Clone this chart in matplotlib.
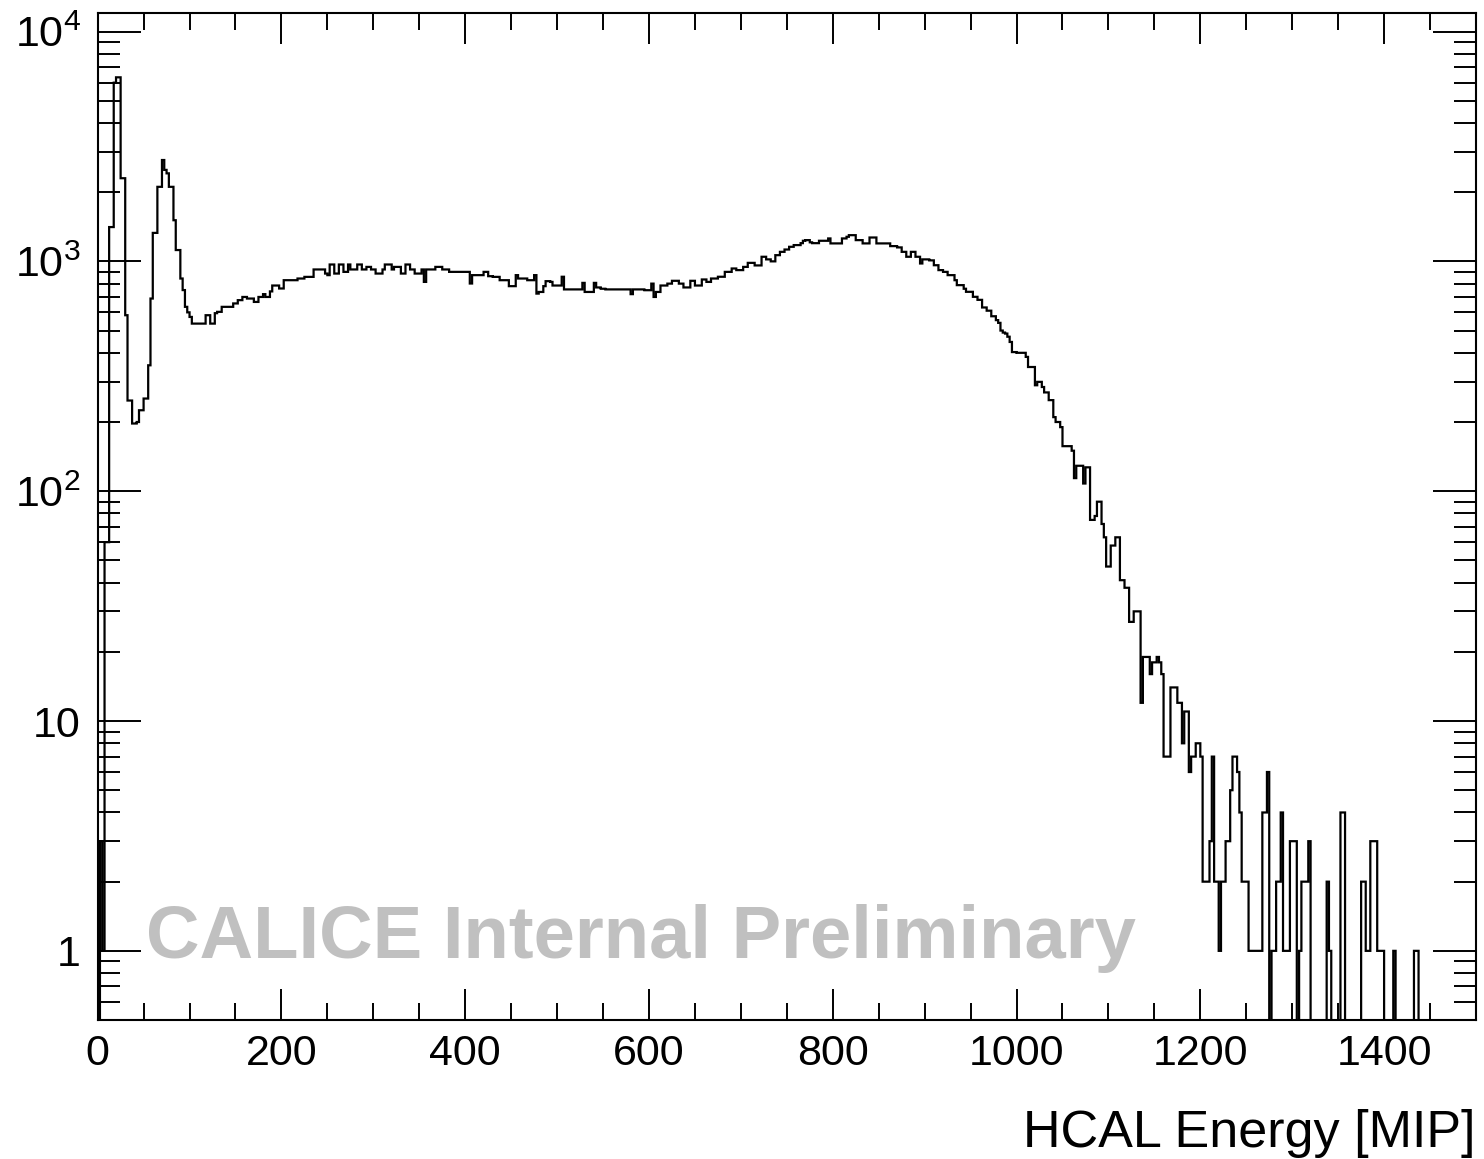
# HCAL energy spectrum, log scale histogram in the ROOT / CALICE style
import numpy as np
import matplotlib
matplotlib.use("Agg")
import matplotlib.pyplot as plt
from matplotlib.ticker import MultipleLocator, LogLocator, FuncFormatter, NullFormatter

plt.rcParams['font.family'] = ['Liberation Sans', 'DejaVu Sans']
plt.rcParams['mathtext.fontset'] = 'custom'
plt.rcParams['mathtext.rm'] = 'Liberation Sans'

# binning: 600 bins of 2.5 MIP from 0 to 1500 MIP
e_low = 0
e_high = 1500
n_bins = 600

# bin contents, one list per region of the spectrum
# 0 - 100 MIP (noise peak + MIP peak)
counts_peaks = [
    0, 3, 1, 60, 60, 1410, 1410, 5990, 6320, 6320,
    2300, 2300, 583, 248, 248, 197, 197, 200, 225, 225,
    253, 253, 353, 689, 1330, 1330, 2110, 2110, 2760, 2500,
    2415, 2110, 2110, 1510, 1120, 1120, 842, 750, 634, 600,
]
# 100 - 750 MIP (plateau and shower peak)
counts_plateau = [
    573, 536, 536, 536, 536, 536, 536, 583, 583, 536,
    536, 595, 603, 603, 634, 634, 634, 634, 634, 656,
    656, 678, 678, 700, 700, 689, 689, 689, 666, 666,
    700, 700, 720, 700, 700, 740, 785, 785, 785, 762,
    762, 828, 828, 828, 828, 828, 828, 842, 842, 842,
    856, 856, 856, 856, 922, 922, 922, 922, 922, 885,
    871, 969, 969, 885, 885, 969, 969, 900, 900, 969,
    922, 922, 922, 969, 969, 922, 922, 946, 946, 922,
    922, 885, 885, 885, 922, 969, 969, 969, 922, 946,
    946, 946, 885, 885, 969, 969, 922, 922, 885, 885,
    885, 922, 814, 922, 922, 922, 922, 946, 946, 946,
    922, 922, 922, 900, 900, 900, 900, 900, 900, 900,
    900, 900, 801, 871, 871, 871, 871, 871, 900, 900,
    862, 862, 856, 856, 856, 828, 828, 828, 828, 780,
    780, 780, 871, 842, 842, 842, 842, 828, 828, 828,
    871, 724, 736, 736, 780, 820, 820, 814, 785, 785,
    785, 785, 857, 755, 755, 755, 755, 755, 755, 755,
    755, 806, 736, 736, 736, 736, 806, 770, 770, 760,
    760, 755, 755, 755, 755, 755, 755, 755, 755, 755,
    755, 755, 720, 755, 755, 755, 755, 755, 749, 749,
    749, 800, 700, 736, 736, 785, 785, 785, 800, 800,
    823, 823, 823, 800, 800, 770, 770, 770, 823, 823,
    785, 785, 785, 834, 834, 814, 814, 842, 842, 842,
    857, 857, 857, 900, 900, 900, 931, 931, 916, 916,
    916, 946, 946, 985, 985, 985, 960, 960, 960, 1047,
    1047, 1020, 1020, 1000, 1000, 1064, 1064, 1100, 1100, 1126,
]
# 750 - 1125 MIP (peak top and fall off)
counts_falloff = [
    1126, 1157, 1157, 1177, 1177, 1177, 1200, 1229, 1237, 1237,
    1210, 1200, 1200, 1200, 1229, 1229, 1229, 1229, 1258, 1197,
    1197, 1197, 1197, 1197, 1258, 1258, 1279, 1300, 1300, 1300,
    1237, 1237, 1237, 1197, 1197, 1197, 1270, 1270, 1270, 1197,
    1197, 1197, 1197, 1197, 1197, 1165, 1165, 1165, 1150, 1150,
    1100, 1100, 1047, 1047, 1100, 1100, 1047, 1047, 979, 1020,
    1020, 1020, 1010, 1010, 962, 962, 916, 916, 900, 900,
    871, 871, 871, 828, 788, 788, 788, 760, 737, 737,
    737, 701, 701, 680, 680, 630, 630, 610, 610, 577,
    577, 555, 540, 500, 490, 485, 470, 446, 403, 403,
    400, 400, 400, 400, 384, 347, 347, 347, 289, 299,
    299, 284, 269, 269, 249, 249, 210, 200, 200, 190,
    157, 157, 157, 157, 150, 114, 129, 129, 129, 108,
    127, 127, 75, 75, 78, 90, 90, 72, 63, 47,
    47, 58, 58, 63, 63, 41, 41, 38, 38, 27,
]
# 1125 - 1500 MIP (tail)
counts_tail = [
    27, 30, 30, 30, 12, 19, 19, 19, 16, 18,
    18, 19, 18, 16, 7, 7, 7, 14, 14, 14,
    12, 12, 8, 11, 11, 6, 7, 7, 8, 8,
    7, 2, 2, 2, 3, 7, 2, 2, 1, 2,
    2, 3, 3, 5, 7, 7, 6, 4, 2, 2,
    2, 1, 1, 1, 1, 1, 1, 4, 4, 6,
    0, 1, 1, 2, 2, 4, 1, 1, 1, 3,
    3, 3, 0, 1, 2, 2, 2, 3, 0, 0,
    0, 0, 0, 0, 0, 2, 1, 0, 0, 0,
    0, 4, 4, 0, 0, 0, 0, 0, 0, 0,
    2, 2, 1, 1, 3, 3, 3, 1, 1, 1,
    0, 0, 0, 0, 1, 0, 0, 0, 0, 0,
    0, 0, 0, 1, 1, 0, 0, 0, 0, 0,
    0, 0, 0, 0, 0, 0, 0, 0, 0, 0,
    0, 0, 0, 0, 0, 0, 0, 0, 0, 0,
]

counts = np.array(counts_peaks + counts_plateau + counts_falloff + counts_tail, dtype=float)
edges = np.linspace(e_low, e_high, n_bins + 1)

fig = plt.figure(figsize=(14.84, 11.59), dpi=100)
ax = fig.add_axes([0.0658, 0.1199, 0.9288, 0.8686])

# empty bins drop below the log axis like in ROOT
ax.stairs(np.clip(counts, 0.05, None), edges, baseline=None,
          color='black', linewidth=1.6, zorder=3)

ax.set_yscale('log')
ax.set_xlim(e_low, e_high)
ax.set_ylim(0.5, 1.2e4)

# ticks inside on all four sides
ax.xaxis.set_major_locator(MultipleLocator(200))
ax.xaxis.set_minor_locator(MultipleLocator(50))
ax.yaxis.set_major_locator(LogLocator(base=10))
ax.yaxis.set_minor_locator(LogLocator(base=10, subs=np.arange(2, 10)))
ax.yaxis.set_minor_formatter(NullFormatter())


def log_label(v, pos):
    p = int(round(np.log10(v)))
    if p == 0:
        return "1"
    if p == 1:
        return "10"
    return r"$\mathregular{10^{%d}}$" % p


ax.yaxis.set_major_formatter(FuncFormatter(log_label))

ax.tick_params(axis='both', which='both', direction='in', top=True, right=True,
               width=1.4, labelsize=31, colors='black')
ax.tick_params(axis='x', which='major', length=22, pad=10)
ax.tick_params(axis='x', which='minor', length=12)
ax.tick_params(axis='y', which='major', length=31, pad=12)
ax.tick_params(axis='y', which='minor', length=16)

for side in ax.spines.values():
    side.set_linewidth(1.5)

ax.set_xlabel("HCAL Energy [MIP]", fontsize=37.5, loc='right', labelpad=25)

# watermark
ax.text(0.035, 0.0616, "CALICE Internal Preliminary", transform=ax.transAxes,
        fontsize=53.5, fontweight='bold', color='#c0c0c0',
        ha='left', va='baseline', zorder=1)

fig.savefig("out.png", dpi=100)
